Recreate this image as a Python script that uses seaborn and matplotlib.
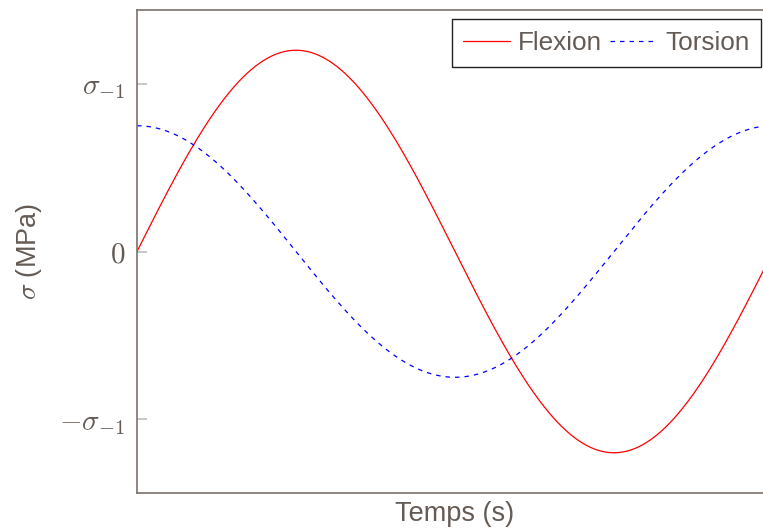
import numpy as np
import pandas as pd
import matplotlib
matplotlib.use("Agg")
import matplotlib.pyplot as plt
import seaborn as sns
from matplotlib.lines import Line2D

# ---- data ----
series_names = ["Flexion", "Torsion"]
series_amplitudes = [1.2, 0.75]          # in units of sigma_-1
series_kinds = ["sin", "cos"]
series_colors = ["#ff0000", "#0000ff"]
time_range = [0.0, 2 * np.pi]            # one full period on the axis
ytick_values = [-1, 0, 1]
ytick_labels = [r"$-\sigma_{-1}$", r"$0$", r"$\sigma_{-1}$"]
y_limits = [-1.44, 1.44]

t = np.linspace(time_range[0], time_range[1], 600)
frames = []
for name, amp, kind in zip(series_names, series_amplitudes, series_kinds):
    vals = amp * (np.sin(t) if kind == "sin" else np.cos(t))
    frames.append(pd.DataFrame({"t": t, "sigma": vals, "serie": name}))
df = pd.concat(frames, ignore_index=True)

sns.set_theme(style="white")
plt.rcParams["font.family"] = ["Liberation Sans", "DejaVu Sans"]
plt.rcParams["mathtext.fontset"] = "cm"

text_col = "#655b55"
spine_col = "#7b716b"

fig = plt.figure(figsize=(7.63, 5.30), dpi=100)
W, H = 763, 530
ax = fig.add_axes([137 / W, (H - 493) / H, (773 - 137) / W, (493 - 10) / H])

sns.lineplot(data=df, x="t", y="sigma", hue="serie", style="serie",
             palette=dict(zip(series_names, series_colors)),
             dashes={"Flexion": "", "Torsion": (3.6, 4.0)},
             linewidth=0.9, ax=ax, legend=False)

ax.set_xlim(*time_range)
ax.set_ylim(*y_limits)
ax.set_xticks([])
ax.set_yticks(ytick_values)
ax.set_yticklabels(ytick_labels)
ax.tick_params(axis="y", direction="in", length=7, width=1.2, color="#bdbdbd",
               labelsize=21, labelcolor=text_col, pad=8.5, left=True)
for s in ax.spines.values():
    s.set_color(spine_col)
    s.set_linewidth(1.2)
    s.set_visible(True)

ax.set_xlabel("Temps (s)", fontsize=19.5, color=text_col, labelpad=6)
ax.set_ylabel(r"$\sigma$ (MPa)", fontsize=19.5, color=text_col, labelpad=11)

handles = [Line2D([], [], color=series_colors[0], lw=0.9),
           Line2D([], [], color=series_colors[1], lw=0.9, dashes=(3.6, 4.0))]
leg = fig.legend(handles, series_names, loc="upper right",
                 bbox_to_anchor=(761 / W, (H - 19) / H),
                 bbox_transform=fig.transFigure, ncol=2, fontsize=18.8,
                 frameon=True, fancybox=False, framealpha=1, edgecolor="#222222",
                 facecolor="white", handlelength=1.8, handletextpad=0.3,
                 columnspacing=0.3, borderpad=0.45, borderaxespad=0)
leg.get_frame().set_linewidth(1.0)
for txt in leg.get_texts():
    txt.set_color(text_col)

fig.savefig("out.png", dpi=100)
